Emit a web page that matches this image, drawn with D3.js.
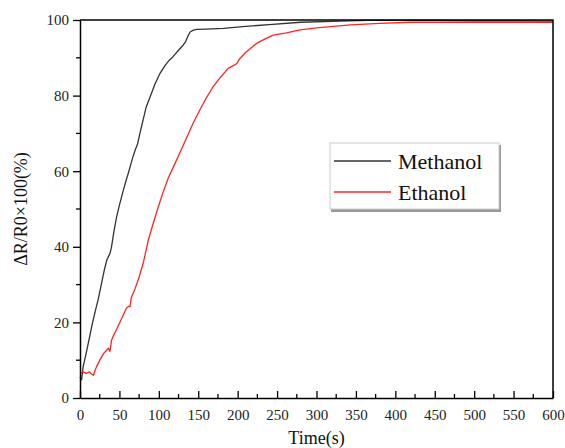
<!DOCTYPE html>
<html>
<head>
<meta charset="utf-8">
<script src="https://cdn.jsdelivr.net/npm/d3@7"></script>
<style>
  body { margin: 0; background: #fff; }
  svg { display: block; }
  svg text { font-family: "Liberation Serif", "Times New Roman", serif; }
</style>
</head>
<body>
<div id="chart"></div>
<script>
// time axis (s) and response values
const methanolT = [0, 2, 4, 8, 12, 16, 20, 23, 27, 31, 34, 36, 38, 40, 43, 46.5, 50, 55, 58, 62, 66, 70, 73, 76, 80, 84, 89, 95, 101.5, 108, 113, 118, 125, 131, 134, 137, 140, 144, 148, 160, 182, 210, 240, 280, 330, 365, 400, 450, 500, 550, 600];
const methanolV = [5.5, 4.8, 8.3, 12, 16, 20, 23.5, 26, 30, 34, 36.5, 37.4, 38.2, 40, 44, 48, 51, 55, 57.2, 60, 63, 65.6, 67.2, 70, 73.5, 77, 79.7, 83, 85.9, 88, 89.3, 90.3, 92, 93.4, 94.3, 95.8, 96.9, 97.3, 97.5, 97.6, 97.8, 98.3, 98.8, 99.4, 99.7, 99.9, 99.9, 99.9, 99.8, 99.8, 99.7];

const ethanolT = [0, 4, 8, 12, 15, 17, 19, 21, 25, 30, 34, 36, 38, 40, 42, 46, 50, 55, 59, 62, 63.5, 65, 70, 75, 80, 86.7, 93, 99.4, 105, 112, 120, 127, 135, 143, 152, 160, 169, 178, 188, 195, 199, 202, 210, 224, 235, 245, 262, 279, 300, 343, 380, 419, 450, 500, 550, 600];
const ethanolV = [6.6, 6.9, 6.5, 6.9, 6.3, 6.0, 7.2, 8.3, 10, 11.8, 12.7, 13.2, 12.3, 15.3, 16.3, 18, 19.8, 22, 23.8, 24.3, 24.2, 26.5, 29, 32, 35.5, 41.8, 46.3, 50.6, 54.2, 58.2, 61.8, 65, 68.7, 72.5, 76.2, 79.3, 82.4, 84.8, 87.2, 88, 88.5, 89.6, 91.4, 93.8, 95, 96, 96.6, 97.4, 97.9, 98.7, 99.1, 99.4, 99.4, 99.4, 99.4, 99.4];

const xTicks = [0, 50, 100, 150, 200, 250, 300, 350, 400, 450, 500, 550, 600];
const yTicks = [0, 20, 40, 60, 80, 100];
const seriesNames = ["Methanol", "Ethanol"];
const seriesColors = ["#333333", "#ff2424"];

const W = 565, H = 448;
const m = { left: 80, right: 12, top: 20, bottom: 50 };
const serif = '"Liberation Serif", "Times New Roman", serif';

const svg = d3.select("#chart").append("svg")
  .attr("width", W).attr("height", H);

const x = d3.scaleLinear().domain([0, 600]).range([m.left, W - m.right]);
const y = d3.scaleLinear().domain([0, 100]).range([H - m.bottom, m.top]);

// lines first, frame drawn on top
const line = d3.line().x(d => x(d[0])).y(d => y(d[1]));
const series = [
  d3.zip(methanolT, methanolV),
  d3.zip(ethanolT, ethanolV)
];
series.forEach((s, i) => {
  svg.append("path").datum(s)
    .attr("d", line)
    .attr("fill", "none")
    .attr("stroke", seriesColors[i])
    .attr("stroke-width", 1.3)
    .attr("stroke-linejoin", "round");
});

// frame top / right
svg.append("path")
  .attr("d", `M${x(0)},${y(100)}H${x(600)}V${y(0)}`)
  .attr("fill", "none").attr("stroke", "#000").attr("stroke-width", 1.5);

// x axis: ticks pointing inward
const xAxis = svg.append("g")
  .attr("transform", `translate(0,${y(0)})`)
  .call(d3.axisBottom(x).tickValues(xTicks).tickSizeInner(-7).tickSizeOuter(0).tickPadding(11));
xAxis.append("g").selectAll("line")
  .data(d3.range(25, 600, 50)).join("line")
  .attr("x1", d => x(d)).attr("x2", d => x(d))
  .attr("y1", 0).attr("y2", -4).attr("stroke", "#000").attr("stroke-width", 1.3);

// y axis: ticks pointing outward
const yAxis = svg.append("g")
  .attr("transform", `translate(${x(0)},0)`)
  .call(d3.axisLeft(y).tickValues(yTicks).tickSizeInner(7).tickSizeOuter(0).tickPadding(4));
yAxis.append("g").selectAll("line")
  .data(d3.range(10, 100, 20)).join("line")
  .attr("x1", 0).attr("x2", -4)
  .attr("y1", d => y(d)).attr("y2", d => y(d)).attr("stroke", "#000").attr("stroke-width", 1.3);

[xAxis, yAxis].forEach(g => {
  g.attr("font-family", null);
  g.select(".domain").attr("stroke", "#000").attr("stroke-width", 1.5);
  g.selectAll(".tick line").attr("stroke", "#000").attr("stroke-width", 1.3);
  g.selectAll(".tick text")
    .style("font-family", serif)
    .style("font-size", "15px").attr("fill", "#222");
});

// axis titles
svg.append("text")
  .attr("x", (x(0) + x(600)) / 2).attr("y", 444)
  .attr("text-anchor", "middle").style("font-size", "18px").style("font-family", serif).attr("fill", "#111")
  .text("Time(s)");
svg.append("text")
  .attr("transform", `translate(27,${(y(0) + y(100)) / 2}) rotate(-90)`)
  .attr("text-anchor", "middle").style("font-size", "18px").style("font-family", serif).attr("fill", "#111")
  .text("ΔR/R0×100(%)");

// legend
const lg = svg.append("g").attr("transform", "translate(330,143)");
lg.append("rect").attr("x", 1).attr("y", 2).attr("width", 170).attr("height", 67).attr("fill", "#999");
lg.append("rect").attr("width", 169).attr("height", 66)
  .attr("fill", "#fff").attr("stroke", "#ccc").attr("stroke-width", 1);
seriesNames.forEach((name, i) => {
  const yy = 18 + i * 31;
  lg.append("line").attr("x1", 4).attr("x2", 61).attr("y1", yy).attr("y2", yy)
    .attr("stroke", seriesColors[i]).attr("stroke-width", 1.3);
  lg.append("text").attr("x", 68).attr("y", yy + 8)
    .style("font-size", "22px").style("font-family", serif).attr("fill", "#111").text(name);
});
</script>
</body>
</html>
